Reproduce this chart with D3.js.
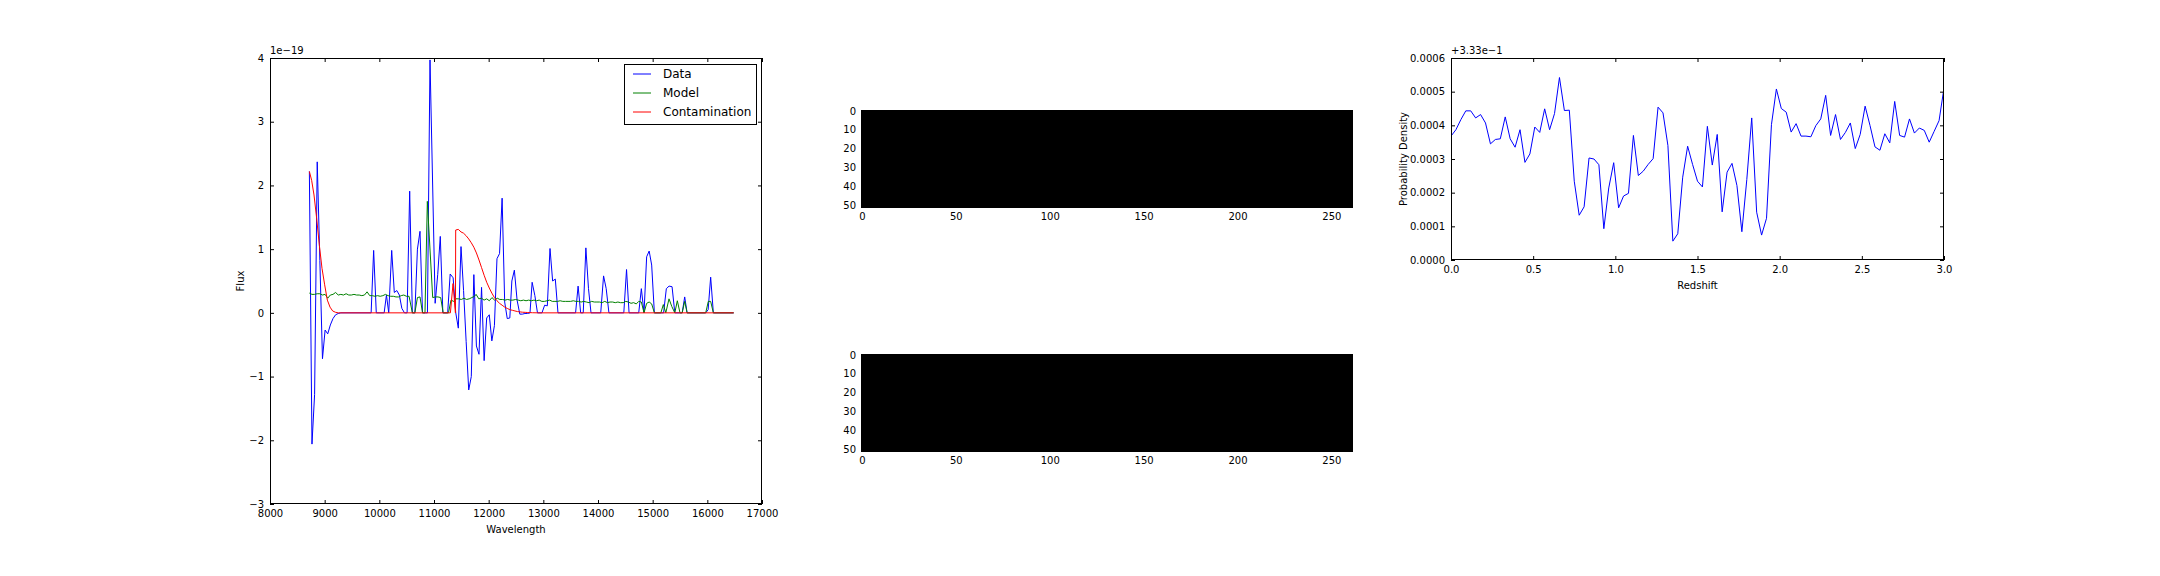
<!DOCTYPE html>
<html><head><meta charset="utf-8">
<script src="https://cdn.jsdelivr.net/npm/d3@7"></script>
<style>body{margin:0;background:#fff}svg{display:block}text{font-family:"DejaVu Sans",sans-serif;fill:#000}</style>
</head><body><svg id="c" width="2160" height="576"></svg>
<script>
// ---------------- DATA ----------------
// 1D spectrum: [wavelength (Å), flux (×1e-19)]
const dataSpec = [[8720,2.22],[8768,-2.06],[8816,-1.28],[8864,2.37],[8912,0.82],[8960,-0.72],[9008,-0.27],[9056,-0.33],[9104,-0.19],[9152,-0.09],[9200,-0.03],[9248,-0.01],[9296,0],
[9850,0],[9896,0.98],[9944,0],[10088,0],[10130,0.28],[10172,0],[10226,0.98],[10274,0.32],[10320,0.35],[10366,0.28],[10412,0.07],[10460,0],[10508,0],[10555,1.91],[10604,0],[10650,0],[10697,1.0],[10744,1.28],[10790,0],[10880,0],[10927,3.97],[11021,0.15],[11068,0.6],[11115,1.2],[11162,0],[11250,0],[11296,0.61],[11350,0.55],[11398,0],[11445,-0.24],[11494,1.04],[11541,0.35],[11588,-0.45],[11635,-1.21],[11682,-1.0],[11729,0.6],[11776,-0.52],[11823,-0.65],[11870,0.4],[11917,-0.75],[11964,-0.08],[12011,-0.03],[12058,-0.44],[12105,-0.2],[12152,0.85],[12199,0.93],[12246,1.8],[12293,0.17],[12340,-0.09],[12387,-0.08],[12424,0.5],[12470,0.67],[12520,0.2],[12570,-0.02],[12616,-0.02],[12664,-0.01],[12710,-0.01],[12756,0],[12795,0.48],[12845,0.27],[12893,0],[12975,0],[13024,0.12],[13073,0.11],[13122,1.01],[13170,0.5],[13219,0.53],[13268,0],[13590,0],[13636,0.42],[13683,0],[13730,0],[13778,1.02],[13826,0.38],[13872,0],[14050,0],[14102,0.58],[14150,0.38],[14200,0],[14472,0],[14522,0.68],[14568,0],[14745,0],[14793,0.38],[14842,0],[14890,0.88],[14936,0.97],[14982,0.75],[15031,0],[15200,0],[15250,0.38],[15300,0.42],[15355,0.41],[15405,0],[15540,0],[15586,0.25],[15630,0],[15970,0],[16015,0.05],[16061,0.56],[16110,0],[16482,0]];

const modelSpec = [[8720,0.31],[8768,0.29],[8816,0.29],[8864,0.30],[8912,0.30],[8960,0.28],[9008,0.29],[9056,0.23],[9104,0.28],[9152,0.29],[9200,0.32],[9248,0.28],[9296,0.29],[9344,0.28],[9392,0.30],[9440,0.28],[9488,0.28],[9536,0.29],[9584,0.28],[9632,0.28],[9680,0.27],[9728,0.28],[9776,0.33],[9824,0.27],[9872,0.27],[9920,0.26],[9968,0.27],[10016,0.26],[10064,0.27],[10112,0.29],[10160,0.27],[10208,0.26],[10256,0.26],[10304,0.25],[10352,0.25],[10400,0.27],[10448,0.28],[10496,0.26],[10544,0.26],[10604,0],[10650,0],[10697,0.24],[10744,0.25],[10790,0],[10835,0],[10878,1.75],[10976,0.24],[11024,0.25],[11073,0.25],[11122,0.24],[11168,0],[11220,0],[11265,0],[11311,0.2],[11360,0.18],[11402,0.22],[11451,0.22],[11500,0.21],[11548,0.23],[11596,0.21],[11644,0.22],[11692,0.24],[11740,0.26],[11770,0.29],[11820,0.22],[11868,0.23],[11916,0.20],[11964,0.22],[12012,0.19],[12060,0.24],[12108,0.2],[12156,0.23],[12204,0.21],[12252,0.21],[12300,0.2],[12348,0.21],[12396,0.2],[12444,0.2],[12492,0.21],[12540,0.2],[12588,0.19],[12636,0.2],[12684,0.19],[12732,0.2],[12780,0.19],[12828,0.2],[12876,0.19],[12924,0.2],[12972,0.18],[13020,0.18],[13068,0.19],[13116,0.2],[13164,0.18],[13212,0.18],[13260,0.18],[13308,0.19],[13356,0.18],[13404,0.18],[13452,0.18],[13500,0.18],[13548,0.19],[13596,0.18],[13644,0.18],[13692,0.17],[13740,0.18],[13788,0.17],[13836,0.16],[13884,0.18],[13932,0.17],[13980,0.17],[14028,0.17],[14076,0.16],[14124,0.18],[14172,0.16],[14220,0.17],[14268,0.17],[14316,0.16],[14364,0.17],[14412,0.16],[14460,0.16],[14508,0.18],[14556,0.17],[14604,0.15],[14652,0.16],[14700,0.14],[14745,0.18],[14793,0.17],[14842,0],[14890,0.15],[14936,0.17],[14982,0.14],[15031,0],[15150,0],[15195,0.13],[15240,0],[15299,0.22],[15350,0.1],[15405,0],[15451,0.19],[15500,0],[15540,0],[15586,0.18],[15630,0],[15970,0],[16018,0.18],[16061,0.18],[16110,0],[16482,0]];

const contamSpec = [[8720,2.22],[8762,2.08],[8805,1.85],[8854,1.48],[8903,1.06],[8951,0.7],[9000,0.44],[9049,0.2],[9098,0.09],[9146,0.03],[9195,0.01],[9250,0],[11300,0],[11348,0.46],[11392,0],[11397,1.30],[11445,1.31],[11494,1.27],[11541,1.25],[11588,1.21],[11635,1.16],[11682,1.10],[11729,1.03],[11776,0.94],[11823,0.83],[11870,0.71],[11917,0.59],[11964,0.48],[12011,0.39],[12058,0.31],[12105,0.24],[12152,0.19],[12199,0.15],[12246,0.12],[12293,0.09],[12340,0.07],[12387,0.05],[12434,0.04],[12481,0.03],[12528,0.02],[12575,0.015],[12622,0.01],[12669,0.008],[12716,0.005],[12800,0.002],[12900,0],[16482,0]];

const seriesNames = ["Data","Model","Contamination"];
const seriesColors = ["#0000ff","#008000","#ff0000"];
const waveTicks = [8000,9000,10000,11000,12000,13000,14000,15000,16000,17000];
const fluxTicks = [-3,-2,-1,0,1,2,3,4];

// 2D stamps (all-zero images): rows x cols
const stampRows = 52, stampCols = 262, stampValue = 0;
const stampXTicks = [0,50,100,150,200,250];
const stampYTicks = [0,10,20,30,40,50];

// P(z)
const redshift = [0,0.03,0.06,0.09,0.12,0.15,0.18,0.21,0.24,0.27,0.3,0.33,0.36,0.39,0.42,0.45,0.48,0.51,0.54,0.57,0.6,0.63,0.66,0.69,0.72,0.75,0.78,0.81,0.84,0.87,0.9,0.93,0.96,0.99,1.02,1.05,1.08,1.11,1.14,1.17,1.2,1.23,1.26,1.29,1.32,1.35,1.38,1.41,1.44,1.47,1.5,1.53,1.56,1.59,1.62,1.65,1.68,1.71,1.74,1.77,1.8,1.83,1.86,1.89,1.92,1.95,1.98,2.01,2.04,2.07,2.1,2.13,2.16,2.19,2.22,2.25,2.28,2.31,2.34,2.37,2.4,2.43,2.46,2.49,2.52,2.55,2.58,2.61,2.64,2.67,2.7,2.73,2.76,2.79,2.82,2.85,2.88,2.91,2.94,2.97,3.0];
// probability density minus 0.333, in units of 1e-4
const pzOffset = [3.68,3.87,4.17,4.43,4.43,4.22,4.32,4.07,3.45,3.58,3.60,4.25,3.60,3.35,3.87,2.90,3.15,3.95,3.79,4.49,3.87,4.35,5.42,4.44,4.45,2.34,1.33,1.58,3.03,3.00,2.83,0.93,2.14,2.89,1.55,1.90,1.98,3.70,2.51,2.64,2.84,3.01,4.54,4.37,3.40,0.56,0.78,2.46,3.38,2.84,2.34,2.17,3.97,2.82,3.73,1.43,2.61,2.87,2.21,0.84,2.39,4.22,1.42,0.74,1.24,4.02,5.08,4.50,4.39,3.80,4.05,3.68,3.68,3.66,3.99,4.19,4.89,3.70,4.32,3.58,3.79,4.07,3.31,3.73,4.57,3.99,3.36,3.26,3.75,3.48,4.71,3.70,3.65,4.19,3.77,3.92,3.85,3.50,3.82,4.14,5.11];
const pzTicksX = [0,0.5,1.0,1.5,2.0,2.5,3.0];
const pzTicksY = [0,1,2,3,4,5,6];

// ---------------- DRAW ----------------
const svg = d3.select("#c");
const FS = 10;

function frame(g, x0, y0, w, h){
  g.append("rect").attr("x",x0+0.5).attr("y",y0+0.5).attr("width",w-1).attr("height",h-1)
   .attr("fill","none").attr("stroke","#000").attr("stroke-width",1);
}
function styleAxis(sel){
  sel.select(".domain").remove();
  sel.selectAll(".tick line").attr("stroke","#000").attr("stroke-width",1);
  sel.selectAll("text").attr("font-size",FS).attr("font-family","DejaVu Sans");
}
function axesBox(x, y, x0,x1,y0,y1, xt, yt, xfmt, yfmt, mirror){
  const g = svg.append("g");
  g.append("g").attr("transform",`translate(0,${y1})`)
    .call(d3.axisBottom(x).tickValues(xt).tickSizeInner(-4).tickSizeOuter(0).tickPadding(6).tickFormat(xfmt)).call(styleAxis);
  g.append("g").attr("transform",`translate(${x0},0)`)
    .call(d3.axisLeft(y).tickValues(yt).tickSizeInner(-4).tickSizeOuter(0).tickPadding(6).tickFormat(yfmt)).call(styleAxis);
  if(mirror){
    g.append("g").attr("transform",`translate(0,${y0})`)
      .call(d3.axisTop(x).tickValues(xt).tickSizeInner(-4).tickSizeOuter(0).tickFormat("")).call(styleAxis);
    g.append("g").attr("transform",`translate(${x1},0)`)
      .call(d3.axisRight(y).tickValues(yt).tickSizeInner(-4).tickSizeOuter(0).tickFormat("")).call(styleAxis);
  }
  return g;
}

// ---- Left: spectrum ----
{
  const L=270,R=762,T=58,B=504;
  const x = d3.scaleLinear().domain([8000,17000]).range([L,R]);
  const y = d3.scaleLinear().domain([-3,4]).range([B,T]);
  svg.append("clipPath").attr("id","clipL").append("rect").attr("x",L).attr("y",T).attr("width",R-L).attr("height",B-T);
  const line = d3.line().x(d=>x(d[0])).y(d=>y(d[1]));
  const lg = svg.append("g").attr("clip-path","url(#clipL)");
  [dataSpec, modelSpec, contamSpec].forEach((s,i)=>{
    lg.append("path").datum(s).attr("d",line).attr("fill","none")
      .attr("stroke",seriesColors[i]).attr("stroke-width",1);
  });
  axesBox(x,y,L,R,T,B,waveTicks,fluxTicks,d3.format("d"),d3.format("d"),true);
  frame(svg,L,T,R-L,B-T);
  svg.append("text").attr("x",L).attr("y",T-4).attr("font-size",FS).text("1e\u221219");
  svg.append("text").attr("x",(L+R)/2).attr("y",B+29).attr("text-anchor","middle").attr("font-size",FS).text("Wavelength");
  svg.append("text").attr("transform",`translate(${L-26},${(T+B)/2}) rotate(-90)`).attr("text-anchor","middle").attr("font-size",FS).text("Flux");
  // legend
  const lx=624, ly=64;
  svg.append("rect").attr("x",lx+0.5).attr("y",ly+0.5).attr("width",132).attr("height",60).attr("fill","#fff").attr("stroke","#000").attr("stroke-width",1);
  seriesNames.forEach((n,i)=>{
    const yy = ly+10+i*19;
    svg.append("line").attr("x1",lx+9).attr("x2",lx+27).attr("y1",yy).attr("y2",yy).attr("stroke",seriesColors[i]).attr("stroke-width",1);
    svg.append("text").attr("x",lx+39).attr("y",yy).attr("dy","0.36em").attr("font-size",12).text(n);
  });
}

// ---- Middle: 2D stamps ----
function stamp(T){
  const L=861,R=1353,B=T+98;
  const x = d3.scaleLinear().domain([-0.5,stampCols-0.5]).range([L,R]);
  const y = d3.scaleLinear().domain([-0.5,stampRows-0.5]).range([T,B]);
  const gray = d3.scaleLinear().domain([0,1]).range(["#000","#fff"]);
  svg.append("rect").attr("x",x(-0.5)).attr("y",y(-0.5)).attr("width",x(stampCols-0.5)-x(-0.5)).attr("height",y(stampRows-0.5)-y(-0.5)).attr("fill",gray(stampValue));
  const g = svg.append("g");
  g.append("g").attr("transform",`translate(0,${B})`)
    .call(d3.axisBottom(x).tickValues(stampXTicks).tickSizeInner(-4).tickSizeOuter(0).tickPadding(5).tickFormat(d3.format("d"))).call(styleAxis);
  g.append("g").attr("transform",`translate(${L},0)`)
    .call(d3.axisLeft(y).tickValues(stampYTicks).tickSizeInner(-4).tickSizeOuter(0).tickPadding(5).tickFormat(d3.format("d"))).call(styleAxis);
}
stamp(110);
stamp(354);

// ---- Right: P(z) ----
{
  const L=1451,R=1944,T=58,B=260;
  const x = d3.scaleLinear().domain([0,3]).range([L,R]);
  const y = d3.scaleLinear().domain([0,6]).range([B,T]);
  const pts = redshift.map((z,i)=>[z,pzOffset[i]]);
  svg.append("clipPath").attr("id","clipR").append("rect").attr("x",L).attr("y",T).attr("width",R-L).attr("height",B-T);
  svg.append("g").attr("clip-path","url(#clipR)").append("path").datum(pts)
    .attr("d",d3.line().x(d=>x(d[0])).y(d=>y(d[1]))).attr("fill","none").attr("stroke","#0000ff").attr("stroke-width",1);
  axesBox(x,y,L,R,T,B,pzTicksX,pzTicksY,d3.format(".1f"),d=>(d*1e-4).toFixed(4),true);
  frame(svg,L,T,R-L,B-T);
  svg.append("text").attr("x",L).attr("y",T-4).attr("font-size",FS).text("+3.33e\u22121");
  svg.append("text").attr("x",(L+R)/2).attr("y",B+29).attr("text-anchor","middle").attr("font-size",FS).text("Redshift");
  svg.append("text").attr("transform",`translate(${L-44},${(T+B)/2}) rotate(-90)`).attr("text-anchor","middle").attr("font-size",FS).text("Probability Density");
}
</script></body></html>
